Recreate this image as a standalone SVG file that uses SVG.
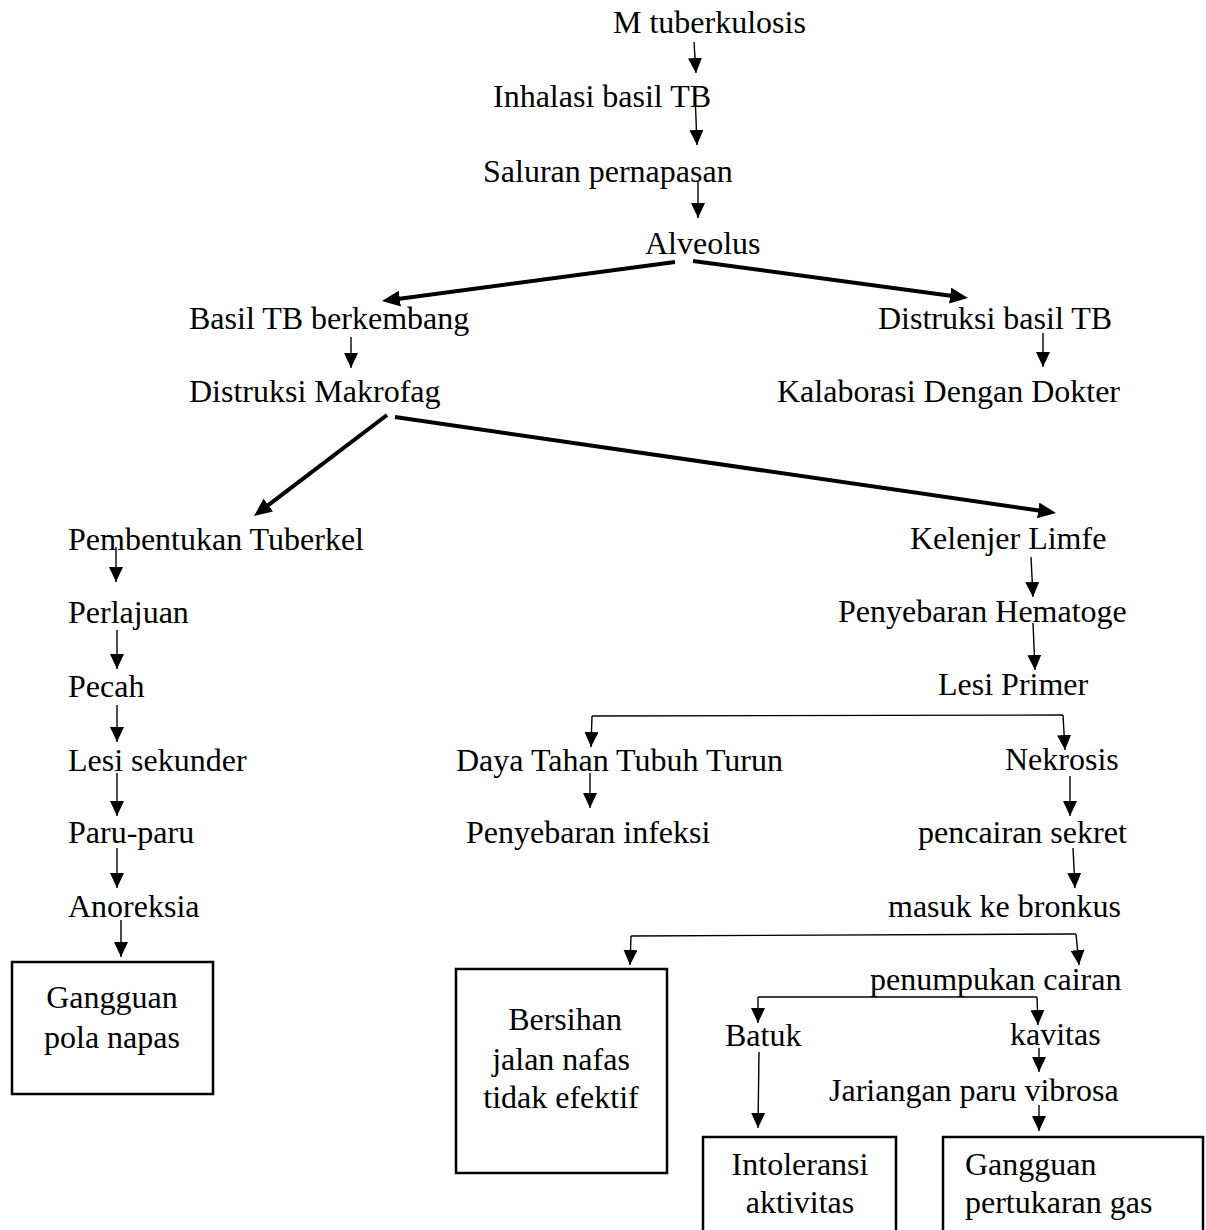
<svg xmlns="http://www.w3.org/2000/svg" width="1206" height="1230" viewBox="0 0 1206 1230">
<style>
text{font-family:"Liberation Serif","Times New Roman",serif;font-size:32px;fill:#000}
.c{text-anchor:middle}
.t{stroke:#000;stroke-width:1.4;fill:none}
.k{stroke:#000;stroke-width:4;fill:none}
.b{stroke:#000;stroke-width:2.5;fill:#fff}
</style>
<defs>
<marker id="a" markerUnits="userSpaceOnUse" markerWidth="15" markerHeight="14" refX="15" refY="7" orient="auto"><path d="M0,0 L15,7 L0,14 z" fill="#000"/></marker>
<marker id="h" markerUnits="userSpaceOnUse" markerWidth="18" markerHeight="16" refX="6" refY="8" orient="auto"><path d="M0,0 L18,8 L0,16 z" fill="#000"/></marker>
</defs>
<rect width="1206" height="1230" fill="#fff"/>
<g id="connectors">
<line class="t" x1="694" y1="42" x2="696" y2="73" marker-end="url(#a)"/>
<line class="t" x1="695" y1="93" x2="697" y2="145" marker-end="url(#a)"/>
<line class="t" x1="698" y1="182" x2="698" y2="218" marker-end="url(#a)"/>
<line class="k" x1="675" y1="262" x2="393.9" y2="299.4" marker-end="url(#h)"/>
<line class="k" x1="693" y1="261" x2="956.1" y2="296.4" marker-end="url(#h)"/>
<line class="t" x1="351" y1="337" x2="351" y2="368" marker-end="url(#a)"/>
<line class="t" x1="1043" y1="333" x2="1043" y2="367" marker-end="url(#a)"/>
<line class="k" x1="387" y1="415" x2="263.6" y2="508.7" marker-end="url(#h)"/>
<line class="k" x1="395" y1="417" x2="1044.1" y2="511.3" marker-end="url(#h)"/>
<line class="t" x1="116" y1="547" x2="116" y2="582" marker-end="url(#a)"/>
<line class="t" x1="117" y1="630" x2="117" y2="669" marker-end="url(#a)"/>
<line class="t" x1="117" y1="705" x2="117" y2="742" marker-end="url(#a)"/>
<line class="t" x1="117" y1="773" x2="117" y2="816" marker-end="url(#a)"/>
<line class="t" x1="117" y1="848" x2="117" y2="888" marker-end="url(#a)"/>
<line class="t" x1="121" y1="920" x2="121" y2="957" marker-end="url(#a)"/>
<line class="t" x1="1031" y1="557" x2="1033" y2="597" marker-end="url(#a)"/>
<line class="t" x1="1033" y1="623" x2="1035" y2="670" marker-end="url(#a)"/>
<polyline class="t" points="592,716 1063,715"/>
<line class="t" x1="592" y1="716" x2="591" y2="747" marker-end="url(#a)"/>
<line class="t" x1="1063" y1="715" x2="1065" y2="750" marker-end="url(#a)"/>
<line class="t" x1="590" y1="773" x2="590" y2="808" marker-end="url(#a)"/>
<line class="t" x1="1070" y1="776" x2="1070" y2="816" marker-end="url(#a)"/>
<line class="t" x1="1073" y1="848" x2="1075" y2="888" marker-end="url(#a)"/>
<polyline class="t" points="631,936 1076,934"/>
<line class="t" x1="631" y1="936" x2="630" y2="965" marker-end="url(#a)"/>
<line class="t" x1="1076" y1="934" x2="1079" y2="965" marker-end="url(#a)"/>
<polyline class="t" points="758,997 1037,997"/>
<line class="t" x1="758" y1="997" x2="758" y2="1023" marker-end="url(#a)"/>
<line class="t" x1="1037" y1="997" x2="1038" y2="1025" marker-end="url(#a)"/>
<line class="t" x1="759" y1="1052" x2="758" y2="1128" marker-end="url(#a)"/>
<line class="t" x1="1039" y1="1048" x2="1039" y2="1072" marker-end="url(#a)"/>
<line class="t" x1="1039" y1="1105" x2="1039" y2="1131" marker-end="url(#a)"/>
</g>
<g id="n1"><text x="613" y="33">M tuberkulosis</text></g>
<g id="n2"><text x="493" y="107">Inhalasi basil TB</text></g>
<g id="n3"><text x="483" y="182">Saluran pernapasan</text></g>
<g id="n4"><text x="645" y="254">Alveolus</text></g>
<g id="n5"><text x="189" y="329">Basil TB berkembang</text></g>
<g id="n6"><text x="878" y="329">Distruksi basil TB</text></g>
<g id="n7"><text x="189" y="402">Distruksi Makrofag</text></g>
<g id="n8"><text x="777" y="402">Kalaborasi Dengan Dokter</text></g>
<g id="n9"><text x="68" y="550">Pembentukan Tuberkel</text></g>
<g id="n10"><text x="68" y="623">Perlajuan</text></g>
<g id="n11"><text x="68" y="697">Pecah</text></g>
<g id="n12"><text x="68" y="771">Lesi sekunder</text></g>
<g id="n13"><text x="68" y="843">Paru-paru</text></g>
<g id="n14"><text x="68" y="917">Anoreksia</text></g>
<g id="n15"><rect class="b" x="12" y="962" width="201" height="132"/><text class="c" x="112" y="1008">Gangguan</text><text class="c" x="112" y="1048">pola napas</text></g>
<g id="n16"><text x="910" y="549">Kelenjer Limfe</text></g>
<g id="n17"><text x="838" y="622">Penyebaran Hematoge</text></g>
<g id="n18"><text x="938" y="695">Lesi Primer</text></g>
<g id="n19"><text x="456" y="771">Daya Tahan Tubuh Turun</text></g>
<g id="n20"><text x="466" y="843">Penyebaran infeksi</text></g>
<g id="n21"><text x="1005" y="770">Nekrosis</text></g>
<g id="n22"><text x="918" y="843">pencairan sekret</text></g>
<g id="n23"><text x="888" y="917">masuk ke bronkus</text></g>
<g id="n24"><rect class="b" x="456" y="969" width="211" height="204"/><text class="c" x="565" y="1030">Bersihan</text><text class="c" x="561" y="1070">jalan nafas</text><text class="c" x="561" y="1108">tidak efektif</text></g>
<g id="n25"><text x="870" y="990">penumpukan cairan</text></g>
<g id="n26"><text x="725" y="1046">Batuk</text></g>
<g id="n27"><text x="1010" y="1045">kavitas</text></g>
<g id="n28"><text x="829" y="1101">Jariangan paru vibrosa</text></g>
<g id="n29"><rect class="b" x="703" y="1137" width="193" height="100"/><text class="c" x="800" y="1175">Intoleransi</text><text class="c" x="800" y="1213">aktivitas</text></g>
<g id="n30"><rect class="b" x="943" y="1137" width="260" height="100"/><text x="965" y="1175">Gangguan</text><text x="965" y="1213">pertukaran gas</text></g>
</svg>
